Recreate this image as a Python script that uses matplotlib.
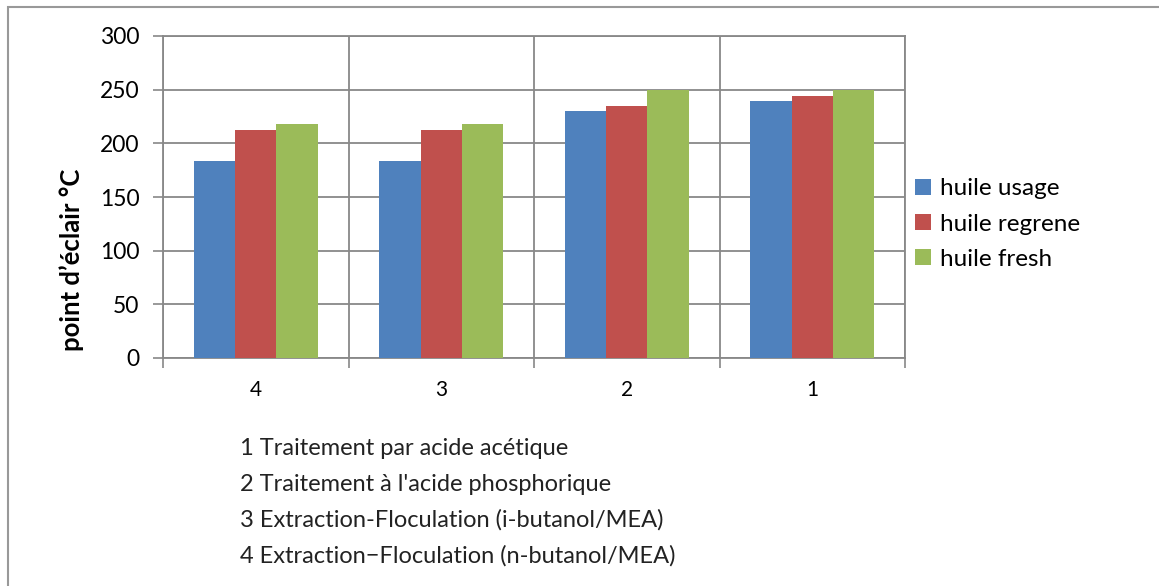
import matplotlib.pyplot as plt
from matplotlib.patches import Rectangle

# Point d'éclair des huiles selon le traitement
traitements = ['4', '3', '2', '1']
huile_usage = [184, 184, 230, 239]
huile_regrene = [212, 212, 235, 244]
huile_fresh = [218, 218, 250, 250]
series = ['huile usage', 'huile regrene', 'huile fresh']
couleurs = ['#4F81BD', '#C0504D', '#9BBB59']
notes = [
    "1 Traitement par acide acétique",
    "2 Traitement à l'acide phosphorique",
    "3 Extraction-Floculation (i-butanol/MEA)",
    "4 Extraction\u2212Floculation (n-butanol/MEA)",
]

plt.rcParams['font.family'] = ['Lato', 'DejaVu Sans']
gris = '#888888'

fig = plt.figure(figsize=(11.59, 5.86), dpi=100)
W, H = 1159, 586
ax = fig.add_axes([163 / W, 1 - 358 / H, (905 - 163) / W, (358 - 36) / H])

x = list(range(len(traitements)))
larg = 0.222
valeurs = [huile_usage, huile_regrene, huile_fresh]
barres = []
for i, (vals, nom, c) in enumerate(zip(valeurs, series, couleurs)):
    b = ax.bar([xi + (i - 1) * larg for xi in x], vals, width=larg, color=c,
               label=nom, zorder=3, linewidth=0)
    barres.append(b)

ax.set_xlim(-0.5, len(traitements) - 0.5)
ax.set_ylim(0, 300)
ax.set_yticks(range(0, 301, 50))
ax.tick_params(axis='y', labelsize=16.5, length=7, width=1.2, color=gris, pad=10)

# graduations aux limites des groupes, étiquettes au centre
ax.set_xticks([k - 0.5 for k in range(len(traitements) + 1)])
ax.set_xticklabels([])
ax.set_xticks(x, minor=True)
ax.set_xticklabels(traitements, minor=True)
ax.tick_params(axis='x', which='major', length=7, width=1.2, color=gris)
ax.tick_params(axis='x', which='minor', length=0, labelsize=15, pad=16)

ax.grid(True, which='major', color=gris, linewidth=1.3, zorder=0)
for s in ax.spines.values():
    s.set_color(gris)
    s.set_linewidth(1.3)

fig.text(72 / W, 1 - 260 / H, "point d\u2019éclair °C", rotation=90,
         fontsize=18.5, fontweight='bold', ha='center', va='center')

fig.legend(handles=barres, labels=series, loc='center left',
           bbox_to_anchor=(905 / W, 1 - 224 / H), frameon=False,
           fontsize=17.5, handlelength=0.65, handleheight=0.65,
           handletextpad=0.4, labelspacing=0.58, borderaxespad=0)

for k, ligne in enumerate(notes):
    fig.text(240 / W, 1 - (455 + 36 * k) / H, ligne, fontsize=17,
             ha='left', va='baseline', color='#222222')

# cadre du graphique (haut et gauche)
fig.patches.append(Rectangle((8 / W, -0.1), 1.2, 1 - 7 / H + 0.1,
                             transform=fig.transFigure, fill=False,
                             edgecolor='#999999', linewidth=1.5))

fig.savefig('out.png', dpi=100)
